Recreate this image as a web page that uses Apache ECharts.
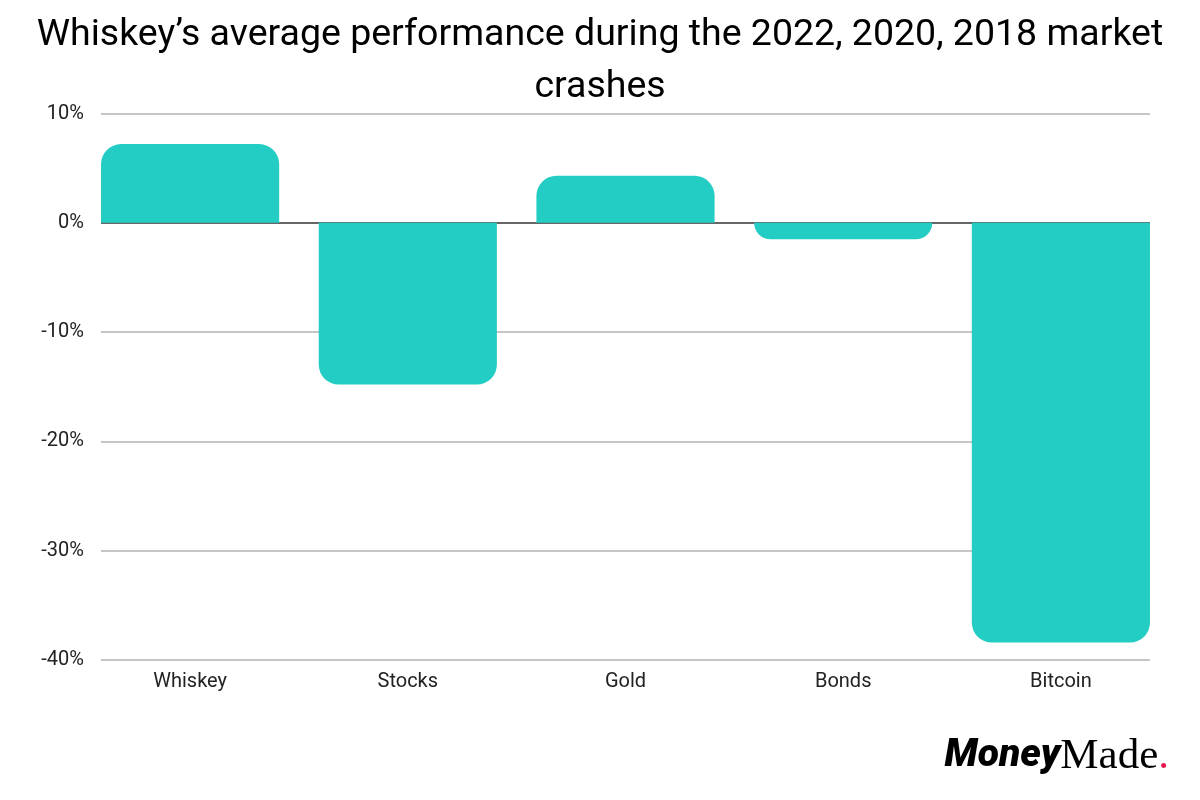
<!DOCTYPE html>
<html>
<head>
<meta charset="utf-8">
<script src="https://cdn.jsdelivr.net/npm/echarts@6/dist/echarts.min.js"></script>
<style>html,body{margin:0;padding:0;background:#fff}#c{width:1200px;height:800px}</style>
</head>
<body>
<div id="c"></div>
<script>
const categories = ['Whiskey', 'Stocks', 'Gold', 'Bonds', 'Bitcoin'];
const performance = [7.2, -14.8, 4.3, -1.5, -38.4];
const yTicks = { min: -40, max: 10, interval: 10 };

const R = 20;
const gridLineColors = [];
for (let v = yTicks.min; v <= yTicks.max; v += yTicks.interval) {
  gridLineColors.push(v === 0 ? '#666666' : '#c6c6c6');
}
const chart = echarts.init(document.getElementById('c'));
chart.setOption({
  backgroundColor: '#ffffff',
  animation: false,
  title: {
    text: 'Whiskey\u2019s average performance during the 2022, 2020, 2018 market\ncrashes',
    left: 'center',
    top: 10,
    padding: 0,
    textStyle: { fontFamily: 'Roboto', fontSize: 37.5, fontWeight: 'normal', color: '#000', lineHeight: 52 }
  },
  grid: [
    { left: 81.25, right: 30.25, top: 113.5, bottom: 140 },
    { left: 101, right: 50, top: 113.5, bottom: 140 }
  ],
  xAxis: [{
    type: 'category',
    gridIndex: 0,
    data: categories,
    axisLine: { show: false, onZero: false },
    axisTick: { show: false },
    axisLabel: { fontFamily: 'Roboto', fontSize: 20, color: '#222', margin: 12 }
  }, {
    type: 'value',
    gridIndex: 1,
    show: false
  }],
  yAxis: [{
    type: 'value',
    gridIndex: 0,
    min: yTicks.min, max: yTicks.max, interval: yTicks.interval,
    show: false
  }, {
    type: 'value',
    gridIndex: 1,
    min: yTicks.min, max: yTicks.max, interval: yTicks.interval,
    axisLine: { show: false },
    axisTick: { show: false },
    splitLine: { lineStyle: { color: gridLineColors, width: 2 } },
    axisLabel: { fontFamily: 'Roboto', fontSize: 20, color: '#222', margin: 17, formatter: v => v + '%' }
  }],
  series: [{
    type: 'bar',
    xAxisIndex: 0,
    yAxisIndex: 0,
    barCategoryGap: '18.16%',
    data: performance.map(v => ({
      value: v,
      itemStyle: { borderRadius: v >= 0 ? [R, R, 0, 0] : [0, 0, R, R] }
    })),
    itemStyle: { color: '#24cdc4' }
  }],
  graphic: [{
    type: 'text',
    right: 31,
    bottom: 22,
    style: {
      text: '{m|Money}{d|Made}{r|.}',
      rich: {
        m: { fontFamily: 'Roboto', fontWeight: 900, fontStyle: 'italic', fontSize: 39, fill: '#000' },
        d: { fontFamily: 'Liberation Serif', fontSize: 43, fill: '#000' },
        r: { fontFamily: 'Liberation Serif', fontSize: 43, fill: '#e8174f' }
      }
    }
  }]
});
</script>
</body>
</html>
